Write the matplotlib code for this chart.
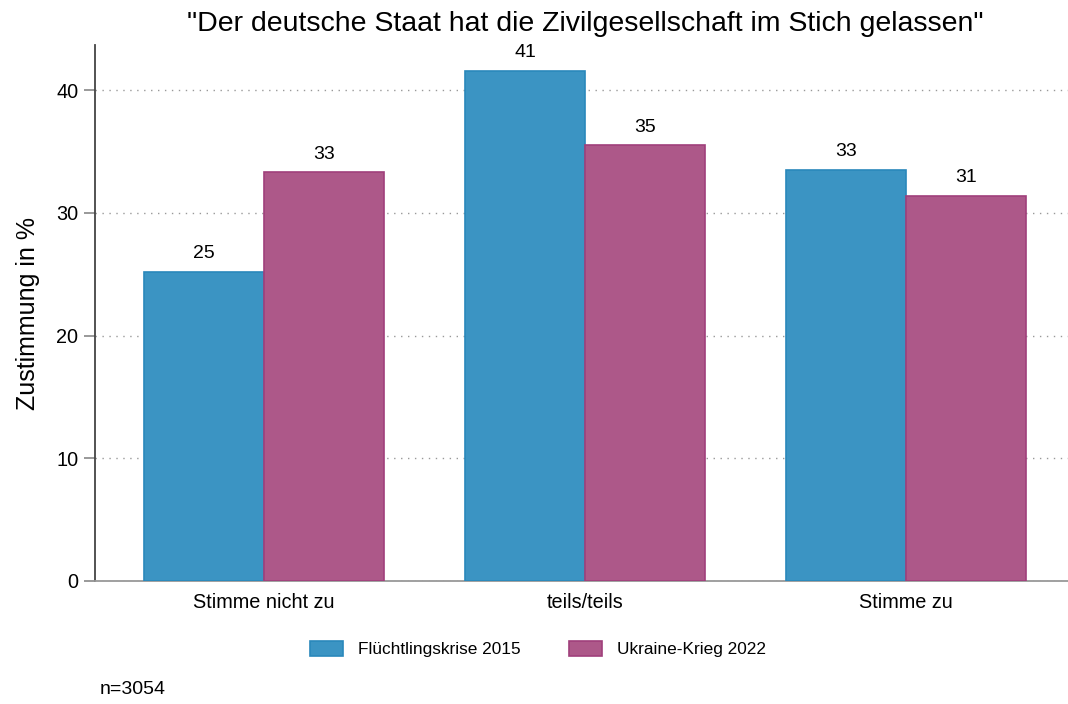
import numpy as np
import matplotlib.pyplot as plt

plt.rcParams['font.family'] = ['Liberation Sans', 'DejaVu Sans']

# data
kategorien = ['Stimme nicht zu', 'teils/teils', 'Stimme zu']
werte_2015 = [25.2, 41.55, 33.5]
werte_2022 = [33.3, 35.5, 31.4]
labels_2015 = ['25', '41', '33']
labels_2022 = ['33', '35', '31']
serien = ['Flüchtlingskrise 2015', 'Ukraine-Krieg 2022']

blau = '#3b94c3'
blau_rand = '#2a88bb'
lila = '#ad5889'
lila_rand = '#a03f7b'

fig = plt.figure(figsize=(10.68, 7.04), dpi=100)
ax = fig.add_axes([95/1068, 1 - 581/704, 1 - 95/1068, (581-45)/704])

x = np.arange(len(kategorien))
w = 0.374
b1 = ax.bar(x - w/2, werte_2015, w, color=blau, edgecolor=blau_rand, linewidth=1.2,
            label=serien[0], zorder=3)
b2 = ax.bar(x + w/2, werte_2022, w, color=lila, edgecolor=lila_rand, linewidth=1.2,
            label=serien[1], zorder=3)
ax.bar_label(b1, labels=labels_2015, padding=7, fontsize=14)
ax.bar_label(b2, labels=labels_2022, padding=7, fontsize=14)

ax.set_xlim(-0.527, 2.505)
ax.set_ylim(0, 43.67)
ax.set_yticks([0, 10, 20, 30, 40])
ax.set_xticks(x)
ax.set_xticklabels(kategorien, fontsize=14.3)
ax.tick_params(axis='y', labelsize=14.3, length=8, width=1.2, color='#888888', pad=4)
ax.tick_params(axis='x', length=0, pad=9)
ax.yaxis.grid(True, linestyle=(0, (1, 4)), color='#999999', linewidth=1, zorder=0)

for s in ['top', 'right']:
    ax.spines[s].set_visible(False)
ax.spines['left'].set_color('#444444')
ax.spines['left'].set_linewidth(1.3)
ax.spines['bottom'].set_color('#999999')
ax.spines['bottom'].set_linewidth(1.3)

ax.set_ylabel('Zustimmung in %', fontsize=18, labelpad=12)
fig.text(0.548, 1 - 24/704, '"Der deutsche Staat hat die Zivilgesellschaft im Stich gelassen"',
         ha='center', va='center', fontsize=20.5)

fig.legend(handles=[b1, b2], labels=serien, loc='center', bbox_to_anchor=(538/1068, 1 - 649/704),
           ncol=2, frameon=False, fontsize=12.4, handlelength=1.92, handleheight=1.0,
           columnspacing=2.8, handletextpad=0.87)

fig.text(100/1068, 1 - 690/704, 'n=3054', ha='left', va='center', fontsize=14)

fig.savefig('out.png', dpi=100)
